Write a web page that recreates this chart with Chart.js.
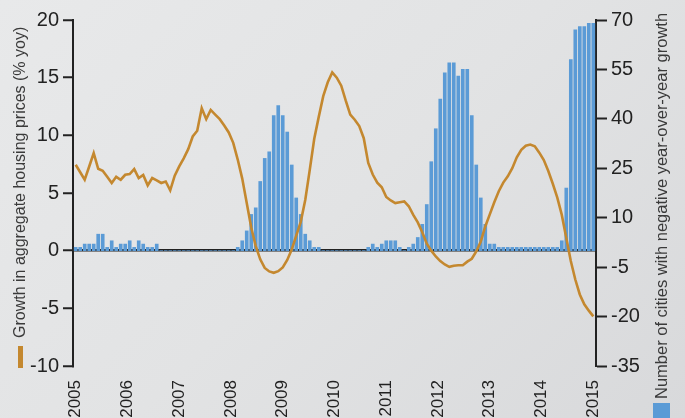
<!DOCTYPE html>
<html>
<head>
<meta charset="utf-8">
<script src="https://cdn.jsdelivr.net/npm/chart.js@4/dist/chart.umd.min.js"></script>
<style>
  html, body { margin: 0; padding: 0; }
  body { width: 685px; height: 418px; overflow: hidden;
         background: linear-gradient(135deg, #e8e9ea 0%, #e2e3e4 50%, #d8d9db 100%); }
  #wrap { position: relative; width: 685px; height: 418px; }
  canvas { display: block; }
</style>
</head>
<body>
<div id="wrap"><canvas id="c" width="685" height="418"></canvas></div>
<script>
// ---- Data ----
const yearLabels = ['2005','2006','2007','2008','2009','2010','2011','2012','2013','2014','2015'];

// Growth in aggregate housing prices (% yoy), one value per period
const priceGrowth = [
  7.45, 6.8, 6.15, 7.3, 8.46, 7.1, 6.93, 6.4, 5.87, 6.4, 6.15, 6.58, 6.64, 7.07, 6.3, 6.56, 5.66, 6.3, 6.1, 5.87,
  6.0, 5.23, 6.5, 7.3, 8.0, 8.8, 9.9, 10.4, 12.35, 11.4, 12.2, 11.8, 11.4, 10.85, 10.25, 9.35, 7.9, 6.25, 4.13, 2.0,
  0.4, -0.75, -1.5, -1.8, -1.92, -1.78, -1.45, -0.8, 0.1, 1.3, 2.5, 4.4, 7.0, 9.7, 11.6, 13.4, 14.6, 15.45, 15.0, 14.3,
  13.0, 11.8, 11.35, 10.8, 9.75, 7.6, 6.6, 5.9, 5.5, 4.65, 4.35, 4.13, 4.2, 4.27, 3.85, 3.1, 2.45, 1.6, 0.6, 0.0,
  -0.5, -0.9, -1.2, -1.4, -1.3, -1.26, -1.26, -0.95, -0.7, -0.07, 0.8, 2.1, 3.15, 4.2, 5.15, 5.9, 6.45, 7.15, 8.1, 8.75,
  9.1, 9.2, 9.05, 8.5, 7.85, 6.9, 5.8, 4.6, 3.1, 1.1, -0.9, -2.5, -3.8, -4.65, -5.2, -5.7
];

// Number of cities with negative year-over-year growth, one value per period
const negativeCities = [
  1, 1, 2, 2, 2, 5, 5, 1, 3, 1, 2, 2, 3, 1, 3, 2, 1, 1, 2, 0,
  0, 0, 0, 0, 0, 0, 0, 0, 0, 0, 0, 0, 0, 0, 0, 0, 1, 3, 6, 11,
  13, 21, 28, 30, 41, 44, 41, 36, 26, 16, 11, 5, 3, 1, 1, 0, 0, 0, 0, 0,
  0, 0, 0, 0, 0, 1, 2, 1, 2, 3, 3, 3, 1, 0, 1, 2, 4, 8, 14, 27,
  37, 46, 54, 57, 57, 53, 55, 55, 41, 26, 16, 8, 2, 2, 1, 1, 1, 1, 1, 1,
  1, 1, 1, 1, 1, 1, 1, 1, 3, 19, 58, 67, 68, 68, 69, 69
];

const leftTitle = 'Growth in aggregate housing prices (% yoy)';
const rightTitle = 'Number of cities with negative year-over-year growth';

// ---- Chart ----
const nPeriods = priceGrowth.length;
const yearStep = (nPeriods - 1) / (yearLabels.length - 1);
const LINE_COLOR = '#c4882f';
const BAR_COLOR = '#5b9bd6';
const AXIS_COLOR = '#222222';
const FONT = '"Liberation Sans", Arial, sans-serif';

const titlesPlugin = {
  id: 'titles',
  afterDraw(chart) {
    const ctx = chart.ctx;
    ctx.save();
    ctx.fillStyle = '#3a3a3a';
    ctx.textBaseline = 'middle';
    ctx.textAlign = 'left';
    ctx.font = '16px ' + FONT;
    ctx.save();
    ctx.translate(21, 338);
    ctx.rotate(-Math.PI / 2);
    ctx.fillText(leftTitle, 0, 0);
    ctx.restore();
    ctx.save();
    ctx.font = '16.5px ' + FONT;
    ctx.translate(662, 399);
    ctx.rotate(-Math.PI / 2);
    ctx.fillText(rightTitle, 0, 0);
    ctx.restore();
    // legend keys
    ctx.fillStyle = LINE_COLOR;
    ctx.fillRect(18, 346, 5, 22);
    ctx.fillStyle = BAR_COLOR;
    ctx.fillRect(653, 403, 17, 16);
    ctx.restore();
  }
};

new Chart(document.getElementById('c'), {
  type: 'bar',
  data: {
    datasets: [
      {
        type: 'line',
        label: leftTitle,
        data: priceGrowth.map((v, i) => ({ x: i, y: v })),
        yAxisID: 'yL',
        borderColor: LINE_COLOR,
        borderWidth: 2.6,
        pointRadius: 0,
        tension: 0,
        fill: false,
        order: 0
      },
      {
        type: 'bar',
        label: rightTitle,
        data: negativeCities.map((v, i) => ({ x: i, y: v })),
        yAxisID: 'yR',
        backgroundColor: BAR_COLOR,
        borderWidth: 0,
        barThickness: 3,
        order: 1
      }
    ]
  },
  options: {
    responsive: false,
    animation: false,
    devicePixelRatio: 1,
    layout: { padding: { top: 20, left: 0, right: 0, bottom: 0 } },
    plugins: { legend: { display: false }, tooltip: { enabled: false } },
    scales: {
      x: {
        type: 'linear',
        offset: false,
        min: -0.6,
        max: nPeriods - 1 + 0.6,
        grid: { display: false, offset: false },
        border: { display: false },
        afterBuildTicks(scale) {
          scale.ticks = yearLabels.map((_, i) => ({ value: i * yearStep }));
        },
        afterFit(scale) { scale.height = 52; },
        ticks: {
          autoSkip: false,
          maxRotation: 90,
          minRotation: 90,
          padding: 6,
          color: AXIS_COLOR,
          font: { family: FONT, size: 17 },
          callback(value, index) { return yearLabels[index]; }
        }
      },
      yL: {
        type: 'linear',
        position: 'left',
        min: -10,
        max: 20,
        afterFit(scale) { scale.width = 73; },
        ticks: {
          stepSize: 5,
          padding: 4,
          color: AXIS_COLOR,
          font: { family: FONT, size: 20 },
          callback(v) { return String(v); }
        },
        grid: {
          drawOnChartArea: true,
          color(ctx) { return ctx.tick && ctx.tick.value === 0 ? AXIS_COLOR : 'rgba(0,0,0,0)'; },
          lineWidth: 2.5,
          tickColor: AXIS_COLOR,
          tickWidth: 2,
          tickLength: 10
        },
        border: { display: true, color: AXIS_COLOR, width: 2 }
      },
      yR: {
        type: 'linear',
        position: 'right',
        min: -35,
        max: 70,
        afterFit(scale) { scale.width = 89; },
        ticks: {
          stepSize: 15,
          padding: 4,
          color: AXIS_COLOR,
          font: { family: FONT, size: 20 },
          callback(v) { return String(v); }
        },
        grid: {
          drawOnChartArea: false,
          tickColor: AXIS_COLOR,
          tickWidth: 2,
          tickLength: 11
        },
        border: { display: true, color: AXIS_COLOR, width: 2 }
      }
    }
  },
  plugins: [titlesPlugin]
});
</script>
</body>
</html>
